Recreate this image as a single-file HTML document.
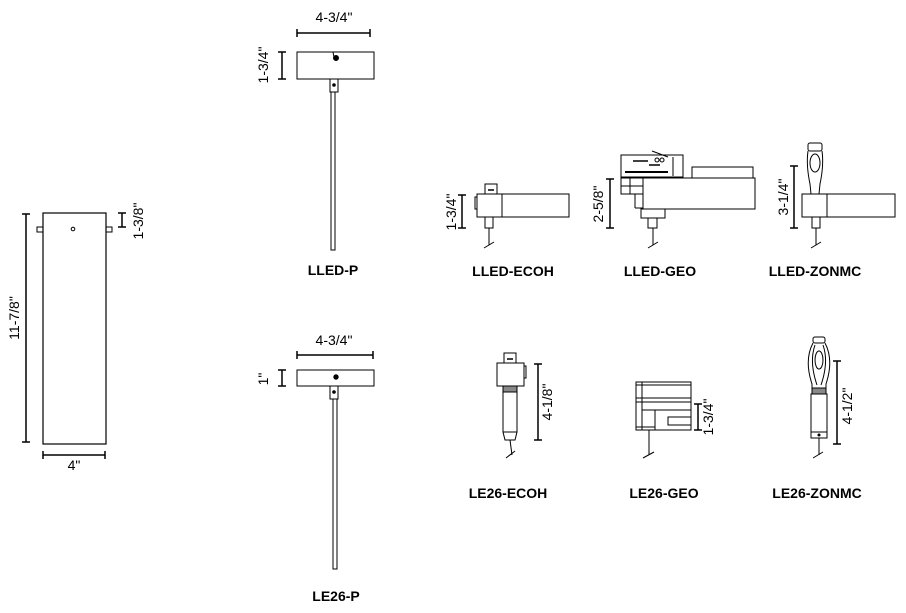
<!DOCTYPE html>
<html><head><meta charset="utf-8"><style>
html,body{margin:0;padding:0;background:#fff;}
svg{display:block;}
text{font-family:"Liberation Sans",Arial,sans-serif;fill:#000;}
.l{font-size:14px;font-weight:bold;}
.d{font-size:14px;}
</style></head><body>
<svg width="906" height="613" viewBox="0 0 906 613" xmlns="http://www.w3.org/2000/svg" fill="none" stroke="#000" stroke-width="1">
<!-- left fixture -->
<rect x="43" y="213" width="63" height="231" stroke-width="1.2"/>
<rect x="37" y="227" width="6" height="5"/>
<rect x="106" y="227" width="6" height="5"/>
<circle cx="73" cy="229" r="1.8"/>
<line x1="26" y1="214" x2="26" y2="442" stroke-width="1.5"/>
<line x1="22" y1="214" x2="30" y2="214" stroke-width="1.5"/>
<line x1="22" y1="442" x2="30" y2="442" stroke-width="1.5"/>
<text class="d" transform="translate(19,318) rotate(-90)" text-anchor="middle" stroke="none">11-7/8"</text>
<line x1="122" y1="213" x2="122" y2="227" stroke-width="1.5"/>
<line x1="118" y1="213" x2="126" y2="213" stroke-width="1.5"/>
<line x1="118" y1="227" x2="126" y2="227" stroke-width="1.5"/>
<text class="d" transform="translate(143,221) rotate(-90)" text-anchor="middle" stroke="none">1-3/8"</text>
<line x1="43" y1="455" x2="105" y2="455" stroke-width="1.5"/>
<line x1="43" y1="451" x2="43" y2="459" stroke-width="1.5"/>
<line x1="105" y1="451" x2="105" y2="459" stroke-width="1.5"/>
<text class="d" x="74" y="470" text-anchor="middle" stroke="none">4"</text>

<!-- LLED-P -->
<line x1="297" y1="33" x2="370" y2="33" stroke-width="1.5"/>
<line x1="297" y1="29" x2="297" y2="37" stroke-width="1.5"/>
<line x1="370" y1="29" x2="370" y2="37" stroke-width="1.5"/>
<text class="d" x="334" y="22" text-anchor="middle" stroke="none">4-3/4"</text>
<rect x="297" y="52" width="77" height="27"/>
<circle cx="336" cy="58" r="2.5" fill="#000"/>
<line x1="333" y1="52" x2="334" y2="57"/>
<line x1="282" y1="52" x2="282" y2="79" stroke-width="1.5"/>
<line x1="278" y1="52" x2="286" y2="52" stroke-width="1.5"/>
<line x1="278" y1="79" x2="286" y2="79" stroke-width="1.5"/>
<text class="d" transform="translate(268,65) rotate(-90)" text-anchor="middle" stroke="none">1-3/4"</text>
<rect x="330" y="79" width="8" height="13"/>
<circle cx="334" cy="85" r="1.3" fill="#000"/>
<rect x="331" y="92" width="4" height="158"/>
<text class="l" x="333" y="275" text-anchor="middle" stroke="none">LLED-P</text>

<!-- LE26-P -->
<line x1="297" y1="355" x2="373" y2="355" stroke-width="1.5"/>
<line x1="297" y1="351" x2="297" y2="359" stroke-width="1.5"/>
<line x1="373" y1="351" x2="373" y2="359" stroke-width="1.5"/>
<text class="d" x="334" y="345" text-anchor="middle" stroke="none">4-3/4"</text>
<rect x="297" y="370" width="77" height="16"/>
<circle cx="336" cy="377" r="2.2" fill="#000"/>
<line x1="282" y1="370" x2="282" y2="386" stroke-width="1.5"/>
<line x1="278" y1="370" x2="286" y2="370" stroke-width="1.5"/>
<line x1="278" y1="386" x2="286" y2="386" stroke-width="1.5"/>
<text class="d" transform="translate(268,379) rotate(-90)" text-anchor="middle" stroke="none">1"</text>
<rect x="330" y="386" width="8" height="13"/>
<circle cx="334" cy="392" r="1.3" fill="#000"/>
<rect x="333" y="399" width="4" height="170"/>
<text class="l" x="336" y="601" text-anchor="middle" stroke="none">LE26-P</text>

<!-- LLED-ECOH -->
<rect x="477" y="194" width="92" height="23"/>
<line x1="502" y1="194" x2="502" y2="217"/>
<rect x="475" y="197" width="2" height="12"/>
<rect x="485" y="184" width="12" height="10"/>
<line x1="488" y1="190" x2="494" y2="190" stroke-width="1.5"/>
<rect x="485" y="217" width="8" height="11"/>
<line x1="489" y1="228" x2="489" y2="245"/>
<line x1="484" y1="248" x2="494" y2="242"/>
<line x1="462" y1="195" x2="462" y2="228" stroke-width="1.5"/>
<line x1="458" y1="195" x2="466" y2="195" stroke-width="1.5"/>
<line x1="458" y1="228" x2="466" y2="228" stroke-width="1.5"/>
<text class="d" transform="translate(456,212) rotate(-90)" text-anchor="middle" stroke="none">1-3/4"</text>
<text class="l" x="513" y="276" text-anchor="middle" stroke="none">LLED-ECOH</text>

<!-- LLED-GEO -->
<rect x="643" y="178" width="112" height="31"/>
<rect x="692" y="167" width="61" height="11"/>
<rect x="621" y="155" width="62" height="22"/>
<line x1="673" y1="157" x2="673" y2="176"/>
<line x1="633" y1="161" x2="648" y2="161" stroke-width="1.5"/>
<line x1="649" y1="165" x2="660" y2="165" stroke-width="1.5"/>
<line x1="625" y1="172" x2="668" y2="172" stroke-width="2"/>
<circle cx="657" cy="160" r="2"/><circle cx="662" cy="160" r="2"/>
<line x1="652" y1="151" x2="668" y2="157"/>
<rect x="621" y="178" width="22" height="16"/>
<line x1="630" y1="178" x2="630" y2="194"/>
<line x1="621" y1="186" x2="643" y2="186"/>
<line x1="635" y1="194" x2="635" y2="208"/>
<line x1="635" y1="208" x2="643" y2="208"/>
<rect x="641" y="209" width="24" height="9"/>
<rect x="648" y="218" width="9" height="10"/>
<line x1="653" y1="228" x2="653" y2="245"/>
<line x1="648" y1="248" x2="658" y2="242"/>
<line x1="610" y1="179" x2="610" y2="228" stroke-width="1.5"/>
<line x1="606" y1="179" x2="614" y2="179" stroke-width="1.5"/>
<line x1="606" y1="228" x2="614" y2="228" stroke-width="1.5"/>
<text class="d" transform="translate(603,204) rotate(-90)" text-anchor="middle" stroke="none">2-5/8"</text>
<text class="l" x="660" y="276" text-anchor="middle" stroke="none">LLED-GEO</text>

<!-- LLED-ZONMC -->
<rect x="802" y="194" width="93" height="23"/>
<line x1="827" y1="194" x2="827" y2="217"/>
<rect x="808" y="143" width="14" height="8" rx="2"/>
<path d="M808 151 Q806 165 810 184 L811 194 M822 151 Q824 165 820 184 L819 194"/>
<ellipse cx="815" cy="163" rx="5" ry="9"/>
<rect x="812" y="217" width="8" height="11"/>
<line x1="816" y1="228" x2="816" y2="245"/>
<line x1="811" y1="248" x2="821" y2="242"/>
<line x1="794" y1="166" x2="794" y2="228" stroke-width="1.5"/>
<line x1="790" y1="166" x2="798" y2="166" stroke-width="1.5"/>
<line x1="790" y1="228" x2="798" y2="228" stroke-width="1.5"/>
<text class="d" transform="translate(788,197) rotate(-90)" text-anchor="middle" stroke="none">3-1/4"</text>
<text class="l" x="815" y="276" text-anchor="middle" stroke="none">LLED-ZONMC</text>

<!-- LE26-ECOH -->
<rect x="497" y="363" width="27" height="23"/>
<rect x="524" y="366" width="2" height="12"/>
<rect x="504" y="353" width="12" height="10"/>
<line x1="507" y1="359" x2="513" y2="359" stroke-width="1.5"/>
<rect x="503" y="386" width="14" height="6" fill="#888"/>
<rect x="503" y="392" width="14" height="40"/>
<path d="M503 432 L505 440 L515 440 L517 432"/>
<line x1="510" y1="440" x2="512" y2="455"/>
<line x1="506" y1="458" x2="515" y2="451"/>
<line x1="538" y1="364" x2="538" y2="440" stroke-width="1.5"/>
<line x1="534" y1="364" x2="542" y2="364" stroke-width="1.5"/>
<line x1="534" y1="440" x2="542" y2="440" stroke-width="1.5"/>
<text class="d" transform="translate(552,402) rotate(-90)" text-anchor="middle" stroke="none">4-1/8"</text>
<text class="l" x="508" y="498" text-anchor="middle" stroke="none">LE26-ECOH</text>

<!-- LE26-GEO -->
<rect x="636" y="382" width="55" height="48"/>
<line x1="636" y1="385" x2="691" y2="385"/>
<line x1="642" y1="382" x2="642" y2="430"/>
<line x1="636" y1="398" x2="691" y2="398"/>
<line x1="636" y1="402" x2="691" y2="402"/>
<line x1="642" y1="410" x2="691" y2="410"/>
<line x1="655" y1="410" x2="655" y2="430"/>
<rect x="668" y="417" width="23" height="8"/>
<line x1="636" y1="427" x2="655" y2="427"/>
<line x1="649" y1="430" x2="649" y2="455"/>
<line x1="643" y1="458" x2="654" y2="452"/>
<line x1="698" y1="404" x2="698" y2="430" stroke-width="1.5"/>
<line x1="694" y1="404" x2="702" y2="404" stroke-width="1.5"/>
<line x1="694" y1="430" x2="702" y2="430" stroke-width="1.5"/>
<text class="d" transform="translate(713,417) rotate(-90)" text-anchor="middle" stroke="none">1-3/4"</text>
<text class="l" x="664" y="498" text-anchor="middle" stroke="none">LE26-GEO</text>

<!-- LE26-ZONMC -->
<rect x="813" y="337" width="12" height="6" rx="2"/>
<path d="M813 343 Q804 360 812 384 L812 392 M825 343 Q834 360 826 384 L826 392"/>
<path d="M815 345 Q809 362 817 385 M823 345 Q829 362 821 385"/>
<ellipse cx="819" cy="360" rx="4" ry="9"/>
<rect x="812" y="388" width="14" height="6" fill="#888"/>
<rect x="811" y="394" width="16" height="38"/>
<rect x="811" y="432" width="16" height="6"/>
<circle cx="819" cy="435" r="1" fill="#000"/>
<line x1="819" y1="438" x2="819" y2="455"/>
<line x1="813" y1="458" x2="823" y2="452"/>
<line x1="837" y1="361" x2="837" y2="444" stroke-width="1.5"/>
<line x1="833" y1="361" x2="841" y2="361" stroke-width="1.5"/>
<line x1="833" y1="444" x2="841" y2="444" stroke-width="1.5"/>
<text class="d" transform="translate(852,406) rotate(-90)" text-anchor="middle" stroke="none">4-1/2"</text>
<text class="l" x="817" y="498" text-anchor="middle" stroke="none">LE26-ZONMC</text>
</svg>
</body></html>
